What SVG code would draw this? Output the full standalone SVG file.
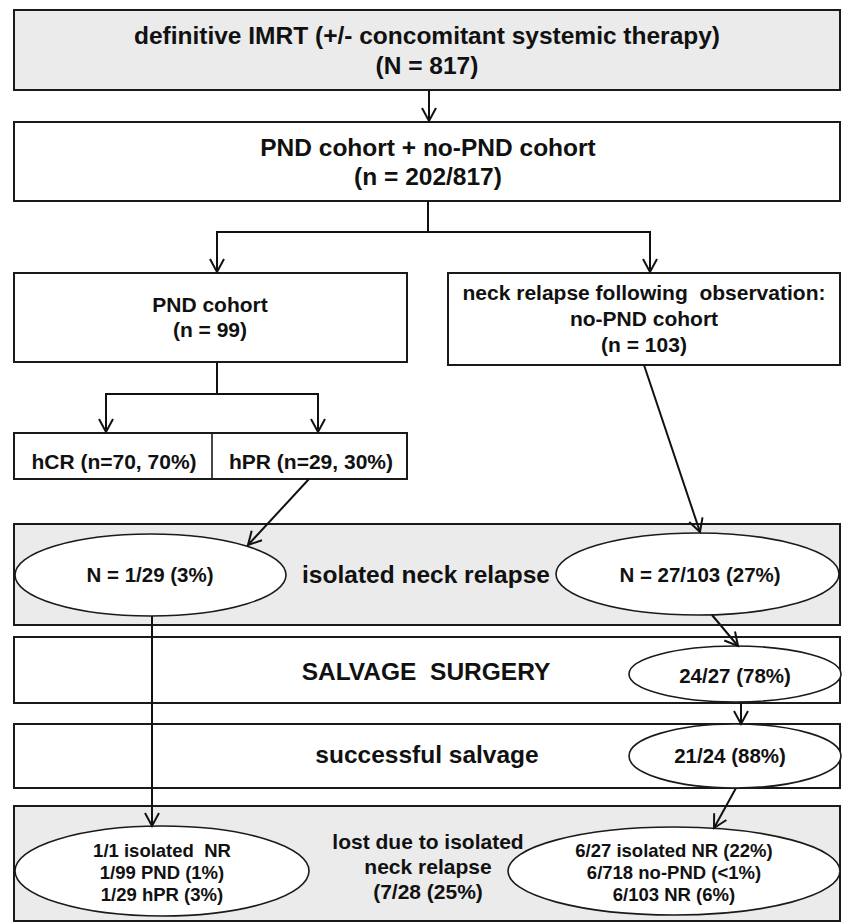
<svg xmlns="http://www.w3.org/2000/svg" width="842" height="924" viewBox="0 0 842 924">
<style>
.box{fill:#fff;stroke:#1a1a1a;stroke-width:2}
.gray{fill:#ebebeb;stroke:#1a1a1a;stroke-width:2}
.ell{fill:#fff;stroke:#1a1a1a;stroke-width:1.6}
text{font-family:"Liberation Sans",Arial,sans-serif;font-weight:bold;fill:#111;text-anchor:middle}
.t24{font-size:24.5px}
.t21{font-size:21px}
.t20{font-size:20.5px}
.t18{font-size:18.5px}
.con{fill:none;stroke:#111;stroke-width:2}
</style>
<defs>
<marker id="ah" markerUnits="userSpaceOnUse" markerWidth="18" markerHeight="18" viewBox="-15 -9 18 18" refX="0" refY="0" orient="auto" overflow="visible">
<path d="M-13,-7 L0,0 L-13,7" fill="none" stroke="#111" stroke-width="2"/>
</marker>
</defs>
<rect width="842" height="924" fill="#fff"/>

<g id="n_imrt">
<rect class="gray" x="14" y="10" width="826" height="80"/>
<text class="t24" x="427" y="44">definitive IMRT (+/- concomitant systemic therapy)</text>
<text class="t24" x="427" y="74">(N = 817)</text>
</g>

<g id="n_cohorts">
<rect class="box" x="14" y="122" width="826" height="79"/>
<text class="t24" x="428" y="156">PND cohort + no-PND cohort</text>
<text class="t24" x="428" y="185">(n = 202/817)</text>
</g>

<g id="n_pnd">
<rect class="box" x="14" y="273" width="393" height="89"/>
<text class="t21" x="210" y="312">PND cohort</text>
<text class="t21" x="210" y="337">(n = 99)</text>
</g>

<g id="n_nopnd">
<rect class="box" x="448" y="273" width="392" height="92"/>
<text class="t21" x="644" y="300">neck relapse following&#160; observation:</text>
<text class="t21" x="644" y="326">no-PND cohort</text>
<text class="t21" x="644" y="352">(n = 103)</text>
</g>

<g id="n_hcr_hpr">
<rect class="box" x="14" y="433" width="393" height="46"/>
<line x1="212" y1="433" x2="212" y2="479" stroke="#1a1a1a" stroke-width="1.6"/>
<text class="t21" x="114" y="469">hCR (n=70, 70%)</text>
<text class="t21" x="311" y="469">hPR (n=29, 30%)</text>
</g>

<g id="n_isolated">
<rect class="gray" x="14" y="524" width="826" height="101"/>
<text class="t24" x="426" y="583">isolated neck relapse</text>
</g>
<g id="n_iso_left">
<ellipse class="ell" cx="150.5" cy="575" rx="135.5" ry="41"/>
<text class="t20" x="150" y="582">N = 1/29 (3%)</text>
</g>
<g id="n_iso_right">
<ellipse class="ell" cx="697.5" cy="574" rx="141.5" ry="41"/>
<text class="t20" x="700" y="582">N = 27/103 (27%)</text>
</g>

<g id="n_salvage">
<rect class="box" x="14" y="637" width="826" height="66"/>
<text class="t24" x="426" y="680">SALVAGE&#160; SURGERY</text>
</g>
<g id="n_salvage_num">
<ellipse class="ell" cx="735" cy="674" rx="106" ry="28"/>
<text class="t20" x="735" y="683">24/27 (78%)</text>
</g>

<g id="n_success">
<rect class="box" x="14" y="724" width="826" height="64"/>
<text class="t24" x="427" y="763">successful salvage</text>
</g>
<g id="n_success_num">
<ellipse class="ell" cx="735" cy="756" rx="106" ry="32"/>
<text class="t20" x="730" y="763">21/24 (88%)</text>
</g>

<g id="n_lost">
<rect class="gray" x="14" y="806" width="826" height="115"/>
<text class="t21" x="428" y="849">lost due to isolated</text>
<text class="t21" x="428" y="874">neck relapse</text>
<text class="t21" x="428" y="899">(7/28 (25%)</text>
</g>
<g id="n_lost_left">
<ellipse class="ell" cx="162" cy="871" rx="147" ry="45"/>
<text class="t18" x="162" y="857">1/1 isolated&#160; NR</text>
<text class="t18" x="162" y="879">1/99 PND (1%)</text>
<text class="t18" x="162" y="901">1/29 hPR (3%)</text>
</g>
<g id="n_lost_right">
<ellipse class="ell" cx="674" cy="871" rx="166" ry="44"/>
<text class="t18" x="674" y="857">6/27 isolated NR (22%)</text>
<text class="t18" x="674" y="879">6/718 no-PND (&lt;1%)</text>
<text class="t18" x="674" y="901">6/103 NR (6%)</text>
</g>

<g id="connectors">
<line class="con" x1="429" y1="90" x2="429" y2="121" marker-end="url(#ah)"/>
<polyline class="con" points="428,201 428,232"/>
<polyline class="con" points="217,272 217,232 650,232 650,272" marker-end="url(#ah)"/>
<line class="con" x1="217" y1="232" x2="217" y2="272" marker-end="url(#ah)"/>
<polyline class="con" points="217,362 217,394"/>
<polyline class="con" points="106,432 106,394 318,394 318,432" marker-end="url(#ah)"/>
<line class="con" x1="106" y1="394" x2="106" y2="432" marker-end="url(#ah)"/>
<line class="con" x1="309" y1="479" x2="248" y2="545" marker-end="url(#ah)"/>
<line class="con" x1="644" y1="365" x2="700" y2="532" marker-end="url(#ah)"/>
<line class="con" x1="152" y1="616" x2="152" y2="826" marker-end="url(#ah)"/>
<line class="con" x1="712" y1="615" x2="738" y2="646" marker-end="url(#ah)"/>
<line class="con" x1="741" y1="702" x2="741" y2="724" marker-end="url(#ah)"/>
<line class="con" x1="736" y1="788" x2="714" y2="828" marker-end="url(#ah)"/>
</g>
</svg>
